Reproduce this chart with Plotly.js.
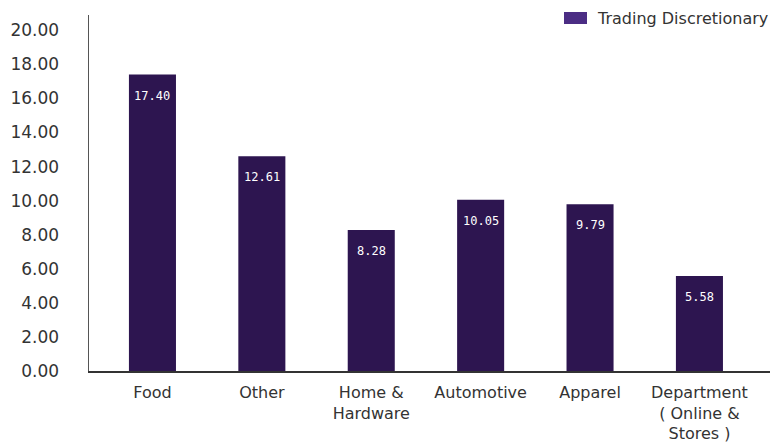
<!DOCTYPE html>
<html>
<head>
<meta charset="utf-8">
<script src="https://cdn.plot.ly/plotly-3.0.1.min.js"></script>
<style>html,body{margin:0;padding:0;background:#fff}#chart{width:770px;height:448px}</style>
</head>
<body>
<div id="chart"></div>
<script>
const categories = ["Food", "Other", "Home &<br>Hardware", "Automotive", "Apparel", "Department<br>( Online &<br>Stores )"];
const values = [17.40, 12.61, 8.28, 10.05, 9.79, 5.58];
const seriesName = "Trading Discretionary";
const tickVals = [0, 2, 4, 6, 8, 10, 12, 14, 16, 18, 20];
const tickLabels = ["\u20070.00", "\u20072.00", "\u20074.00", "\u20076.00", "\u20078.00", "10.00", "12.00", "14.00", "16.00", "18.00", "20.00"];

const barColor = "#2D1550";
const legendColor = "#4B2D84";
const font = "DejaVu Sans, sans-serif";

const trace = {
  type: "bar",
  x: categories,
  y: values,
  name: seriesName,
  marker: {color: barColor},
  width: 0.43,
  showlegend: false,
  hoverinfo: "x+y"
};

const annotations = categories.map((c, i) => ({
  x: c, y: values[i], xref: "x", yref: "y",
  text: values[i].toFixed(2),
  showarrow: false, yanchor: "middle", yshift: -21,
  font: {family: "DejaVu Sans Mono, monospace", size: 12, color: "#ffffff"}
}));
annotations.push({
  xref: "paper", yref: "paper", x: 1, y: 1, xanchor: "right", yanchor: "middle",
  yshift: -3, text: seriesName, showarrow: false,
  font: {family: font, size: 16, color: "#333333"}
});

const layout = {
  width: 770, height: 448,
  margin: {l: 89, r: 0, t: 15, b: 77},
  paper_bgcolor: "#ffffff", plot_bgcolor: "#ffffff",
  showlegend: false,
  font: {family: font, color: "#333333"},
  xaxis: {
    type: "category",
    range: [-0.58, 5.645],
    showline: true, linecolor: "#333333", linewidth: 1.5,
    showgrid: false, zeroline: false, ticks: "",
    ticklabelstandoff: 6,
    tickfont: {family: font, size: 16, color: "#333333"}
  },
  yaxis: {
    range: [0, 20.9],
    tickvals: tickVals, ticktext: tickLabels,
    showline: true, linecolor: "#555555", linewidth: 1.5,
    showgrid: false, zeroline: false, ticks: "",
    ticklabelstandoff: 25,
    tickfont: {family: font, size: 17, color: "#333333"}
  },
  shapes: [{
    type: "rect", xref: "paper", yref: "paper",
    x0: (564 - 89) / 681, x1: (587 - 89) / 681,
    y0: (371 - 24) / 356, y1: (371 - 12) / 356,
    fillcolor: legendColor, line: {width: 0}
  }],
  annotations: annotations
};

Plotly.newPlot("chart", [trace], layout, {displayModeBar: false, staticPlot: true});
</script>
</body>
</html>
